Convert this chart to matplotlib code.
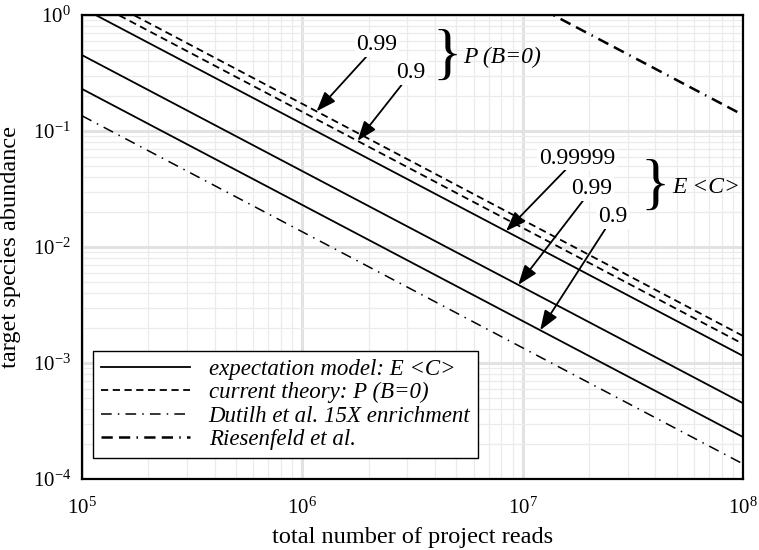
import matplotlib
matplotlib.use('Agg')
import matplotlib.pyplot as plt
import numpy as np

plt.rcParams['font.family'] = ['Liberation Serif', 'DejaVu Serif']
plt.rcParams['mathtext.fontset'] = 'stix'

# end points of each line (x = 1e5 and x = 1e8)
reads = [1e5, 1e8]
ec_99999 = [1.15, 1.15e-3]
ec_99 = [0.45, 4.5e-4]
ec_9 = [0.23, 2.3e-4]
pb_99 = [1.71, 1.71e-3]
pb_9 = [1.46, 1.46e-3]
dutilh = [0.135, 1.35e-4]
riesenfeld = [137.0, 0.137]

legend_labels = ['expectation model: E <C>', 'current theory: P (B=0)',
                 'Dutilh et al. 15X enrichment', 'Riesenfeld et al.']


def on_line(line, x):
    # point on a straight log-log line at reads = x
    return 10 ** np.interp(np.log10(x), np.log10(reads), np.log10(line))


fig = plt.figure(figsize=(7.59, 5.5), dpi=100)
ax = fig.add_axes([0.108, 0.129, 0.871, 0.844])
ax.set_xscale('log')
ax.set_yscale('log')

ax.plot(reads, ec_99999, color='black', lw=1.3, label=legend_labels[0])
ax.plot(reads, ec_99, color='black', lw=1.3)
ax.plot(reads, ec_9, color='black', lw=1.3)
ax.plot(reads, pb_99, color='black', lw=1.3, dashes=(4, 2.5), label=legend_labels[1])
ax.plot(reads, pb_9, color='black', lw=1.3, dashes=(4, 2.5))
ax.plot(reads, dutilh, color='black', lw=1.1, dashes=(7, 4, 1, 4), label=legend_labels[2])
ax.plot(reads, riesenfeld, color='black', lw=1.8, dashes=(4.5, 2.5, 4.5, 2.5, 0.6, 2.5), label=legend_labels[3])

ax.set_xlim(1e5, 1e8)
ax.set_ylim(1e-4, 1e0)
ax.set_axisbelow(True)
ax.grid(which='major', color='#e2e2e2', lw=2.2)
ax.grid(which='minor', color='#ebebeb', lw=0.9)
ax.tick_params(which='both', length=0, labelsize=15)
ax.tick_params(axis='x', pad=13)
ax.tick_params(axis='y', pad=8)
for s in ax.spines.values():
    s.set_linewidth(1.6)

ax.set_xlabel('total number of project reads', fontsize=17.5, labelpad=6)
ax.set_ylabel('target species abundance', fontsize=17.5, labelpad=8)

# arrows: (label, line, tip x, text position in figure pixels)
arrows = [('0.99', pb_99, 1.16e6, (377, 505)),
          ('0.9', pb_9, 1.78e6, (411, 477)),
          ('0.99999', ec_99999, 8.4e6, (577, 392)),
          ('0.99', ec_99, 9.55e6, (592, 361)),
          ('0.9', ec_9, 1.2e7, (613, 333))]
for txt, line, tx, pos in arrows:
    ax.annotate(txt, xy=(tx, on_line(line, tx)), xytext=pos, textcoords='figure pixels',
                ha='center', va='center', fontsize=17,
                bbox=dict(fc='white', ec='none', pad=1),
                arrowprops=dict(arrowstyle='-|>,head_length=0.6,head_width=0.22', color='black', lw=1.3,
                                mutation_scale=20, shrinkA=0, shrinkB=0))

fig.text(447 / 759, 1 - 58 / 550, '}', fontsize=44, ha='center', va='center')
fig.text(463 / 759, 1 - 57 / 550, 'P (B=0)', fontsize=17, style='italic', ha='left', va='center')
fig.text(655 / 759, 1 - 188 / 550, '}', fontsize=44, ha='center', va='center')
fig.text(672 / 759, 1 - 187 / 550, 'E <C>', fontsize=17, style='italic', ha='left', va='center')

leg = ax.legend(loc='lower left', bbox_to_anchor=(0.0166, 0.045), borderaxespad=0,
                prop={'style': 'italic', 'size': 16.5}, fancybox=False, framealpha=1,
                edgecolor='black', handlelength=3.9, labelspacing=0.1, borderpad=0.35)
leg.get_frame().set_linewidth(1.0)

fig.savefig('out.png', dpi=100)
